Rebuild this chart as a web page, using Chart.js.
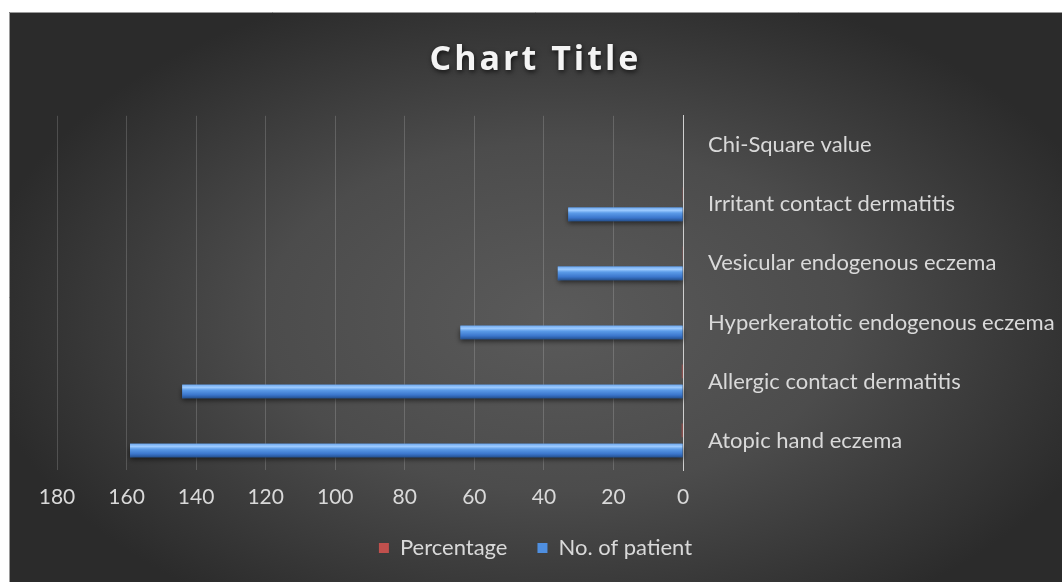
<!DOCTYPE html>
<html>
<head>
<meta charset="utf-8">
<script src="https://cdn.jsdelivr.net/npm/chart.js@4.4.1/dist/chart.umd.min.js"></script>
<style>
html,body{margin:0;padding:0;background:#fff;overflow:hidden}
canvas{display:block}
</style>
</head>
<body>
<canvas id="c" width="1062" height="582"></canvas>
<script>
// ---- data (top to bottom as shown) ----
const categories = [
  "Chi-Square value",
  "Irritant contact dermatitis",
  "Vesicular endogenous eczema",
  "Hyperkeratotic endogenous eczema",
  "Allergic contact dermatitis",
  "Atopic hand eczema"
];
const patients   = [null, 33, 36, 64, 144, 159];
const percentage = [null, 0.08, 0.08, 0.15, 0.33, 0.36];
const seriesNames = ["Percentage", "No. of patient"];
const xMin = 0, xMax = 180, xStep = 20;
const titleText = "Chart Title";

const W = 1062, H = 582;
const labelFont = {family: "Lato, 'Open Sans', sans-serif", size: 22};
const tickFont = {family: "Lato, 'Open Sans', sans-serif", size: 21};

const bgPlugin = {
  id: 'bg',
  beforeDraw(chart) {
    const c = chart.ctx;
    c.save();
    c.fillStyle = '#ffffff';
    c.fillRect(0, 0, W, H);
    const x0 = 9, y0 = 12, x1 = W, y1 = H;
    c.save();
    c.beginPath();
    c.rect(x0, y0, x1 - x0, y1 - y0);
    c.clip();
    const cx = (x0 + x1) / 2 + 20, cy = (y0 + y1) / 2 + 20;
    c.translate(cx, cy);
    c.scale(1, 0.6);
    const r = (x1 - x0) / 2 * 1.1;
    const g = c.createRadialGradient(0, 0, 0, 0, 0, r);
    g.addColorStop(0, '#5a5a5a');
    g.addColorStop(0.5, '#4c4c4c');
    g.addColorStop(1, '#2b2b2b');
    c.fillStyle = g;
    c.fillRect(-r * 3, -r * 3, r * 6, r * 6);
    c.restore();
    c.strokeStyle = '#9a9a9a';
    c.lineWidth = 1;
    c.beginPath();
    c.moveTo(x0 + 0.5, y1);
    c.lineTo(x0 + 0.5, y0 + 0.5);
    c.lineTo(x1, y0 + 0.5);
    c.stroke();
    c.restore();
    const tb = chart.titleBlock;
    if (tb && !tb._fx) {
      const orig = tb.draw.bind(tb);
      tb.draw = function () {
        const ctx = this.ctx;
        ctx.save();
        ctx.letterSpacing = '3px';
        ctx.shadowColor = 'rgba(0,0,0,0.7)';
        ctx.shadowBlur = 5;
        ctx.shadowOffsetX = 1;
        ctx.shadowOffsetY = 2;
        orig();
        ctx.restore();
      };
      tb._fx = true;
    }
  }
};

const barStyle = {
  id: 'barStyle',
  afterDatasetsDraw(chart) {
    const meta = chart.getDatasetMeta(1);
    const c = chart.ctx;
    meta.data.forEach(el => {
      const p = el.getProps(['x', 'y', 'base', 'height'], true);
      if (p.x == null || isNaN(p.x) || isNaN(p.base)) return;
      const l = Math.min(p.x, p.base), r = Math.max(p.x, p.base);
      if (r - l < 1) return;
      const t = p.y - p.height / 2, b = p.y + p.height / 2;
      c.save();
      c.shadowColor = 'rgba(0,0,0,0.55)';
      c.shadowBlur = 5;
      c.shadowOffsetY = 3;
      const g = c.createLinearGradient(0, t, 0, b);
      g.addColorStop(0, '#6fa8ee');
      g.addColorStop(0.2, '#9dcbff');
      g.addColorStop(0.4, '#5b9be8');
      g.addColorStop(0.75, '#3b76cc');
      g.addColorStop(1, '#24508f');
      c.fillStyle = g;
      c.fillRect(l, t, r - l, b - t);
      c.restore();
    });
  }
};

new Chart(document.getElementById('c'), {
  type: 'bar',
  data: {
    labels: categories,
    datasets: [
      {label: seriesNames[0], data: percentage, backgroundColor: '#c0504d', borderWidth: 0,
       categoryPercentage: 0.68, barPercentage: 0.68},
      {label: seriesNames[1], data: patients, backgroundColor: '#4f8fe0', borderWidth: 0,
       categoryPercentage: 0.68, barPercentage: 0.68}
    ]
  },
  options: {
    indexAxis: 'y',
    responsive: false,
    animation: false,
    layout: {padding: {left: 9, top: 12, right: 0, bottom: 13}},
    scales: {
      x: {
        type: 'linear', min: xMin, max: xMax, reverse: true, position: 'bottom',
        ticks: {stepSize: xStep, color: '#d9d9d9', font: tickFont, padding: 15},
        grid: {color: 'rgba(255,255,255,0.17)', drawTicks: false, lineWidth: 1},
        border: {display: false},
        afterFit(s) { s.height = 37; }
      },
      y: {
        position: 'right',
        grid: {display: false, drawTicks: false},
        border: {display: true, color: '#cfcfcf', width: 1},
        ticks: {color: '#d9d9d9', font: labelFont, padding: 25, crossAlign: 'near'},
        afterFit(s) { s.width = 379; }
      },
      pad: {
        type: 'linear', position: 'left', display: true,
        grid: {display: false, drawTicks: false}, border: {display: false},
        ticks: {display: false},
        afterFit(s) { s.width = 48; }
      }
    },
    plugins: {
      title: {
        display: true, text: titleText, color: '#f4f4f4',
        font: {family: "'Open Sans', sans-serif", size: 34, weight: 'bold'},
        padding: {top: 28, bottom: 35}
      },
      legend: {
        position: 'bottom',
        labels: {color: '#d9d9d9', font: labelFont, boxWidth: 10, boxHeight: 10, padding: 30}
      },
      tooltip: {enabled: false}
    }
  },
  plugins: [bgPlugin, barStyle]
});
</script>
</body>
</html>
